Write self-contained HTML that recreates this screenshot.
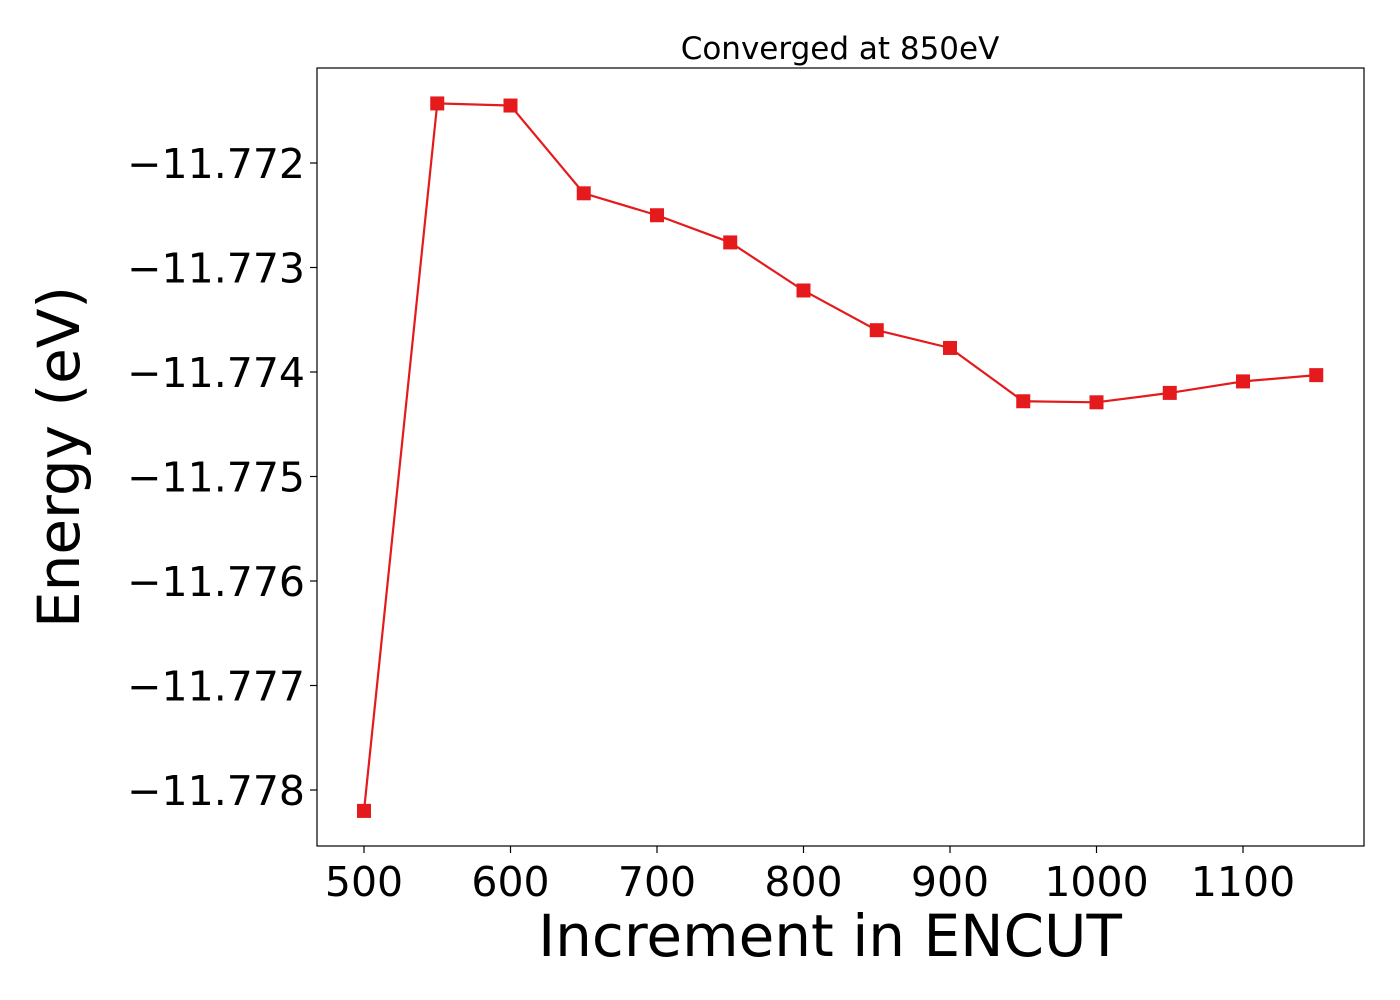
<!DOCTYPE html>
<html><head><meta charset="utf-8"><style>
body{margin:0;background:#fff;}
svg{display:block;font-family:"DejaVu Sans","Liberation Sans",sans-serif;}
</style></head><body>
<svg id="chart" width="1400" height="1000" viewBox="0 0 1400 1000">
<text x="840" y="59" font-size="31" text-anchor="middle">Converged at 850eV</text>
<rect x="317" y="68" width="1047" height="778" fill="none" stroke="#000" stroke-width="1.2"/>
<text x="830" y="956" font-size="58" text-anchor="middle">Increment in ENCUT</text>
<text transform="translate(79,457) rotate(-90)" font-size="58" text-anchor="middle">Energy (eV)</text>
<g id="xt"></g><g id="yt"></g><g id="series"></g>
</svg>
<script>
const encut=[500,550,600,650,700,750,800,850,900,950,1000,1050,1100,1150];
const energy=[-11.77820,-11.77143,-11.77145,-11.77229,-11.77250,-11.77276,-11.77322,-11.77360,-11.77377,-11.77428,-11.77429,-11.77420,-11.77409,-11.77403];
const xTicks=[500,600,700,800,900,1000,1100];
const yTicks=[-11.772,-11.773,-11.774,-11.775,-11.776,-11.777,-11.778];
const yTickLabels=["\u221211.772","\u221211.773","\u221211.774","\u221211.775","\u221211.776","\u221211.777","\u221211.778"];
const NS="http://www.w3.org/2000/svg";
const xs=v=>364+(v-500)*1.465;
const ys=v=>163+(-11.772-v)*104500;
function mk(t,a,p){const e=document.createElementNS(NS,t);for(const k in a)e.setAttribute(k,a[k]);p.appendChild(e);return e;}
const xt=document.getElementById('xt'),yt=document.getElementById('yt'),s=document.getElementById('series');
xTicks.forEach(v=>{
 const l=mk('line',{x1:xs(v),x2:xs(v),y1:846,y2:853,stroke:'#000','stroke-width':1.2},xt);
 
 
 const t=mk('text',{x:xs(v),y:896,'font-size':41,'text-anchor':'middle'},xt);t.textContent=v;
 
 
});
yTicks.forEach((v,i)=>{
 const l=mk('line',{x1:310,x2:317,y1:ys(v),y2:ys(v),stroke:'#000','stroke-width':1.2},yt);
 
 
 const t=mk('text',{x:305,y:ys(v)+15,'font-size':41,'text-anchor':'end'},yt);t.textContent=yTickLabels[i];
 
 
});
const line=mk('polyline',{points:encut.map((x,i)=>xs(x)+','+ys(energy[i])).join(' '),fill:'none',stroke:'#e41a1c','stroke-width':2.2},s);


encut.forEach((x,i)=>{
 const r=mk('rect',{x:xs(x)-7,y:ys(energy[i])-7,width:14,height:14,fill:'#e41a1c'},s);
 
 
});
</script>
</body></html>
